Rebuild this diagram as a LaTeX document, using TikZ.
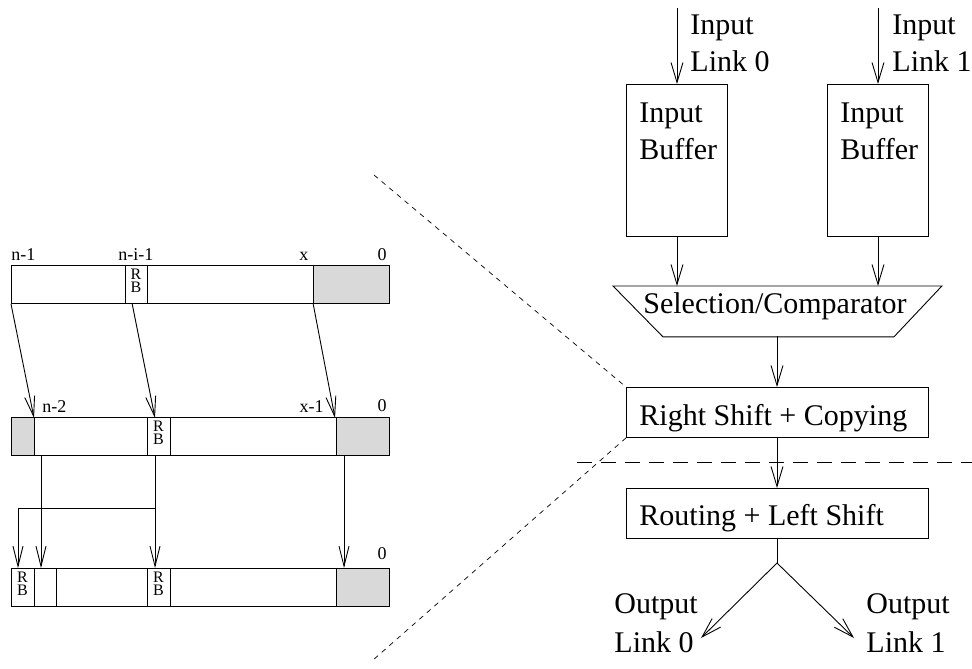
\documentclass[tikz,border=0pt]{standalone}
\usepackage{fontspec}
\setmainfont{Liberation Serif}
\usetikzlibrary{arrows.meta,calc}
\definecolor{cellgray}{HTML}{D9D9D9}
\begin{document}
\begin{tikzpicture}[x=1pt,y=-1pt,line width=0.9pt,
  big/.style={font=\fontsize{30}{36}\selectfont,inner sep=0pt},
  small/.style={font=\fontsize{18}{18}\selectfont,inner sep=0pt},
  rb/.style={font=\fontsize{16}{16}\selectfont,inner sep=0pt},
  arrL/.style={-{Straight Barb[length=20pt,width=10pt]}},
  arrR/.style={-{Straight Barb[length=20pt,width=12pt]}},
  reg/.style={draw,inner sep=0pt,minimum width=378pt,minimum height=38pt,anchor=north west},
  blk/.style={draw,inner sep=0pt,anchor=north west},
  shaded/.style={fill=cellgray,draw},
  fine dash/.style={line width=0.7pt,dash pattern=on 5pt off 5pt},
  coarse dash/.style={line width=0.9pt,dash pattern=on 15pt off 9pt}]
\useasboundingbox (0,0) rectangle (972,669);

% ---------- register rows ----------
\node[reg] (r1) at (11,265) {};
\node[reg] (r2) at (11,417) {};
\node[reg] (r3) at (11,568) {};

% row 1 cells
\draw (125,265) -- (125,303);
\draw (147,265) -- (147,303);
\draw[shaded] (313,265) rectangle (389,303);
\node[rb,anchor=base] (rb1r) at (136,279) {R};
\node[rb,anchor=base] (rb1b) at (136,292) {B};

% row 2 cells
\draw[shaded] (11,417) rectangle (34,455);
\draw (147,417) -- (147,455);
\draw (170,417) -- (170,455);
\draw[shaded] (336,417) rectangle (389,455);
\node[rb,anchor=base] (rb2r) at (158.5,431) {R};
\node[rb,anchor=base] (rb2b) at (158.5,444) {B};

% row 3 cells
\draw (34,568) -- (34,606);
\draw (56,568) -- (56,606);
\draw (147,568) -- (147,606);
\draw (170,568) -- (170,606);
\draw[shaded] (336,568) rectangle (389,606);
\node[rb,anchor=base] (rb3ar) at (22.5,582) {R};
\node[rb,anchor=base] (rb3ab) at (22.5,595) {B};
\node[rb,anchor=base] (rb3br) at (158.5,582) {R};
\node[rb,anchor=base] (rb3bb) at (158.5,595) {B};

% bit position labels
\node[small,anchor=base west] (l11) at (11,260) {n-1};
\node[small,anchor=base west] (l12) at (118,260) {n-i-1};
\node[small,anchor=base west] (l13) at (299,260) {x};
\node[small,anchor=base east] (l14) at (387,260) {0};
\node[small,anchor=base west] (l21) at (42,412) {n-2};
\node[small,anchor=base east] (l22) at (324,412) {x-1};
\node[small,anchor=base east] (l23) at (387,411) {0};
\node[small,anchor=base east] (l31) at (387,559) {0};

% shift arrows between rows 1 and 2
\coordinate (s1a) at (r1.south west);
\coordinate (s1b) at (132,303);
\coordinate (s1c) at (313,303);
\coordinate (t2a) at (34,418);
\coordinate (t2b) at (155,418);
\coordinate (t2c) at (335,418);
\draw[arrL] (s1a) -- (t2a);
\draw[arrL] (s1b) -- (t2b);
\draw[arrL] (s1c) -- (t2c);

% copy arrows between rows 2 and 3
\coordinate (s2a) at (41,455);
\coordinate (s2b) at (155,455);
\coordinate (s2c) at (344,455);
\coordinate (br) at (155,508);
\coordinate (t3a) at (41,568);
\coordinate (t3b) at (155,568);
\coordinate (t3c) at (344,568);
\coordinate (t3d) at (18,568);
\draw[arrL] (s2a) -- (t3a);
\draw[arrL] (s2b) -- (t3b);
\draw[arrL] (s2c) -- (t3c);
\draw[arrL] (br) -| (t3d);

% ---------- switch pipeline ----------
\node[blk,minimum width=101pt,minimum height=152pt] (buf0) at (626,84) {};
\node[blk,minimum width=101pt,minimum height=152pt] (buf1) at (827,84) {};
\node[big,anchor=base west] (b0a) at (639,122) {Input};
\node[big,anchor=base west] (b0b) at (639,159) {Buffer};
\node[big,anchor=base west] (b1a) at (840,122) {Input};
\node[big,anchor=base west] (b1b) at (840,159) {Buffer};

\coordinate (in0) at (677,8);
\coordinate (in1) at (878,8);
\draw[arrR] (in0) -- (in0 |- buf0.north);
\draw[arrR] (in1) -- (in1 |- buf1.north);
\node[big,anchor=base west] (i0a) at (690,35) {Input};
\node[big,anchor=base west] (i0b) at (690,72) {Link 0};
\node[big,anchor=base west] (i1a) at (892,35) {Input};
\node[big,anchor=base west] (i1b) at (892,72) {Link 1};

% selection / comparator trapezoid
\node[inner sep=0pt,minimum width=328pt,minimum height=50pt,anchor=north west] (sel) at (613,286) {};
\draw (sel.north west) -- (sel.north east) -- ($(sel.south east)+(-48,0)$)
      -- ($(sel.south west)+(50,0)$) -- cycle;
\node[big,anchor=base] (seltxt) at (775,313) {Selection/Comparator};
\draw[arrR] (in0 |- buf0.south) -- (in0 |- sel.north);
\draw[arrR] (in1 |- buf1.south) -- (in1 |- sel.north);

\node[blk,minimum width=302pt,minimum height=50pt] (rsc) at (626,387) {};
\node[big,anchor=base west] (rsctxt) at (639,425) {Right Shift + Copying};
\node[blk,minimum width=302pt,minimum height=50pt] (rls) at (626,488) {};
\node[big,anchor=base west] (rlstxt) at (639,525) {Routing + Left Shift};

\coordinate (mid) at (777,336);
\draw[arrR] (mid) -- (mid |- rsc.north);
\draw[arrR] (mid |- rsc.south) -- (mid |- rls.north);

\coordinate (split) at (777,563);
\coordinate (out0) at (701,638);
\coordinate (out1) at (854,638);
\draw (mid |- rls.south) -- (split);
\draw[arrR] (split) -- (out0);
\draw[arrR] (split) -- (out1);
\node[big,anchor=base west] (o0a) at (614,613) {Output};
\node[big,anchor=base west] (o0b) at (614,652) {Link 0};
\node[big,anchor=base west] (o1a) at (866,613) {Output};
\node[big,anchor=base west] (o1b) at (866,652) {Link 1};

% stage boundary and zoom lines
\coordinate (cutL) at (577,462);
\coordinate (cutR) at (972,462);
\draw[coarse dash] (cutL) -- (cutR);
\coordinate (zt) at (374,175);
\coordinate (zb) at (373,660);
\draw[fine dash] (zt) -- (rsc.north west);
\draw[fine dash] (rsc.south west) -- (zb);
\end{tikzpicture}
\end{document}
